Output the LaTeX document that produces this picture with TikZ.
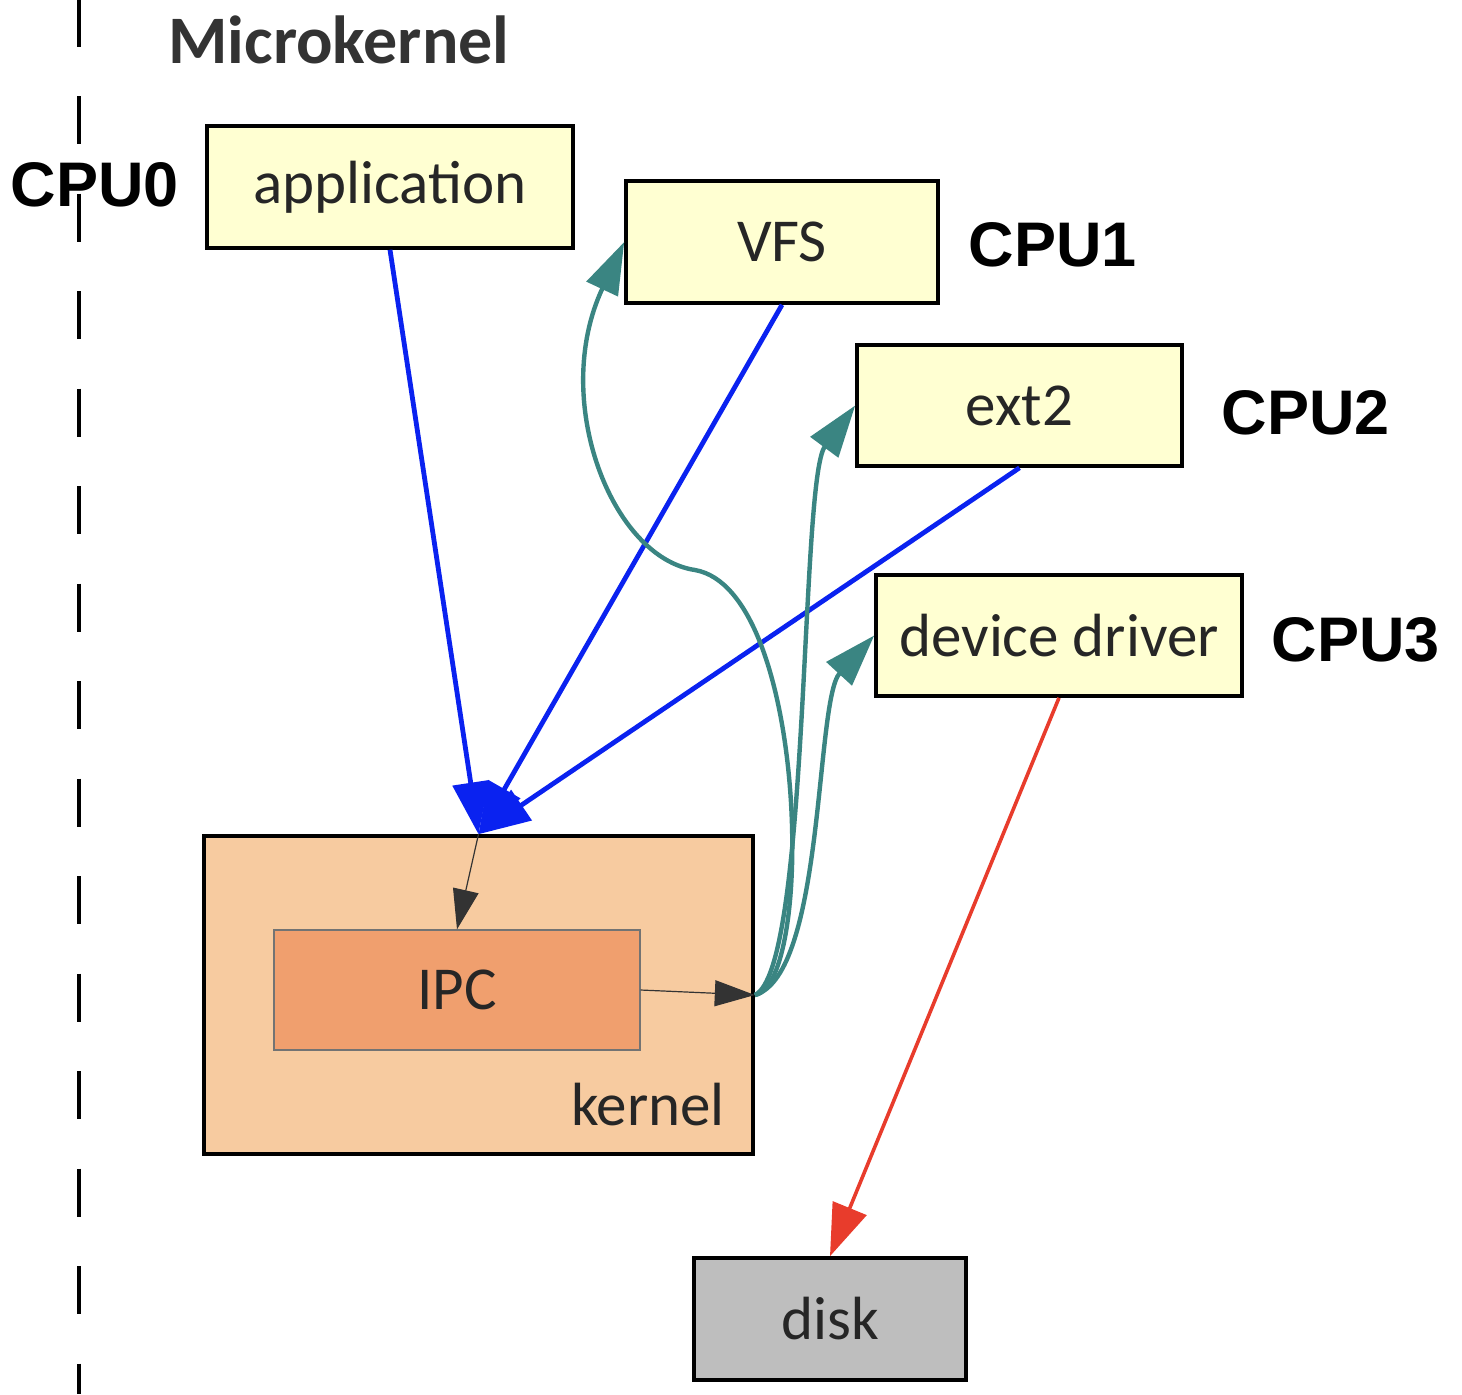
\documentclass[tikz,border=0pt]{standalone}
\usepackage{fontspec}
\setmainfont{Carlito}
\newfontfamily\cpufont{Liberation Sans}
\usetikzlibrary{arrows.meta}
\definecolor{boxyellow}{HTML}{FFFFD2}
\definecolor{kernelfill}{HTML}{F7CBA0}
\definecolor{ipcfill}{HTML}{F09F6E}
\definecolor{diskfill}{HTML}{BEBEBE}
\definecolor{callblue}{HTML}{0A22F0}
\definecolor{ipcteal}{HTML}{3A8582}
\definecolor{ioRed}{HTML}{E83C2C}

\begin{document}
\begin{tikzpicture}[x=0.5pt, y=-0.5pt,
  every node/.style={font=\fontsize{30.5}{36}\selectfont, text=black!85},
  box/.style={draw, line width=1.8pt, fill=boxyellow, minimum height=61pt, inner sep=0pt},
  cpulabel/.style={font=\cpufont\bfseries\fontsize{31.5}{38}\selectfont, text=black},
  call/.style={callblue, line width=2.4pt, -{Triangle[length=26pt, width=18pt]}},
  ipc/.style={ipcteal, line width=2.2pt, -{Triangle[length=26pt, width=17pt]}},
  thin/.style={black!80, line width=0.6pt, -{Triangle[length=20pt, width=13pt]}}]
	\useasboundingbox (0,0) rectangle (1462,1394);
	\draw[line width=2pt, dash pattern=on 24pt off 24.75pt] (79,-1.5) -- (79,1394);
	\node[font=\bfseries\fontsize{34}{40}\selectfont, text=black!80] (title) at (339,40) {Microkernel};
	% user space, one box per cpu
	\node[box, minimum width=183pt] (app) at (390,187) {application};
	\node[box, minimum width=156pt] (vfs) at (782,242) {VFS};
	\node[box, minimum width=162.5pt, minimum height=60.5pt] (ext) at (1019.5,405.5) {ext2};
	\node[box, minimum width=183pt, minimum height=60.5pt] (drv) at (1059,635.5) {device driver};
	\node[cpulabel] (cpu0) at (95,185) {CPU0};
	\node[cpulabel] (cpu1) at (1053,245) {CPU1};
	\node[cpulabel] (cpu2) at (1306,413) {CPU2};
	\node[cpulabel] (cpu3) at (1356,640) {CPU3};
	% kernel with IPC inside
	\node[draw, line width=1.8pt, fill=kernelfill, minimum width=274.5pt, minimum height=159pt, inner sep=0pt] (kernel) at (478.5,995) {};
	\node[draw=black!55, line width=0.6pt, fill=ipcfill, minimum width=183pt, minimum height=60pt, inner sep=0pt] (ipcbox) at (457,990) {IPC};
	\node[anchor=base] (klabel) at (648,1125) {kernel};
	\node[draw, line width=1.8pt, fill=diskfill, minimum width=136pt, minimum height=61pt, inner sep=0pt] (disk) at (830,1319) {disk};
	\draw[thin] (kernel.north) -- (ipcbox.north);
	\draw[thin] (ipcbox.east) -- (kernel.east);
	\draw[call] (app.south) -- (kernel.north);
	\draw[call] (vfs.south) -- (kernel.north);
	\draw[call] (ext.south) -- (kernel.north);
	% replies from IPC to the servers
	\draw[ipc] (kernel.east) .. controls (815,985) and (808,590) .. (695,570) .. controls (612,558) and (550,400) .. (vfs.west);
	\draw[ipc] (kernel.east) .. controls (810,970) and (800,480) .. (ext.west);
	\draw[ipc] (kernel.east) .. controls (825,975) and (815,700) .. (drv.west);
	\draw[ioRed, line width=1.8pt, -{Triangle[length=26pt, width=18pt]}] (drv.south) -- (disk.north);
\end{tikzpicture}
\end{document}
